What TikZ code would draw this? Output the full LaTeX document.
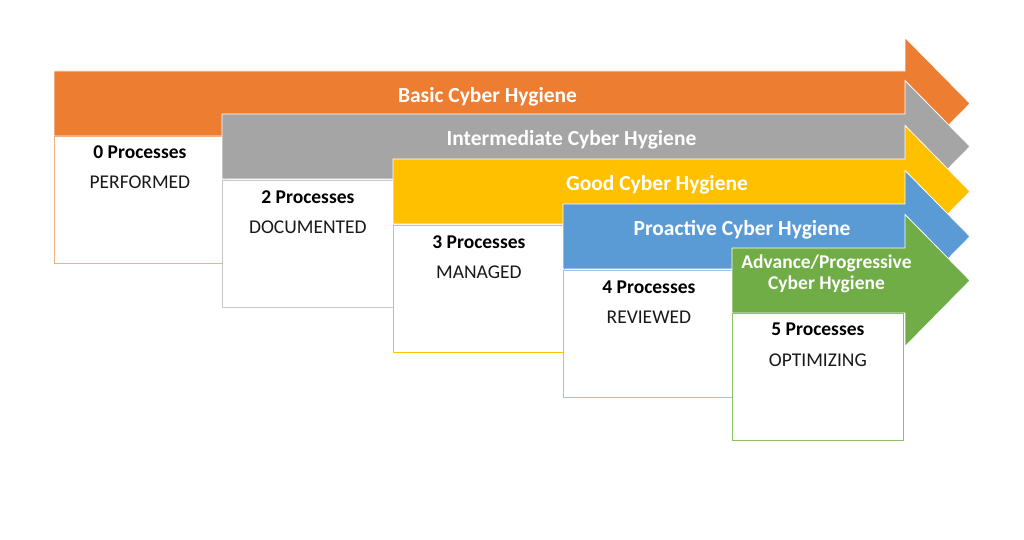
\documentclass[tikz,border=0pt]{standalone}
\usepackage{fontspec}
\setmainfont{Carlito}
\definecolor{cOrange}{HTML}{ED7D31}
\definecolor{cGray}{HTML}{A5A5A5}
\definecolor{cYellow}{HTML}{FFC000}
\definecolor{cBlue}{HTML}{5B9BD5}
\definecolor{cGreen}{HTML}{70AD47}
\definecolor{bOrange}{HTML}{F4B183}
\definecolor{bGray}{HTML}{C9C9C9}
\definecolor{bYellow}{HTML}{FFC000}
\definecolor{bBlue}{HTML}{9DC3E6}
\definecolor{bGreen}{HTML}{8CC168}
\begin{document}
\begin{tikzpicture}[x=1pt,y=-1pt,
  arrowshape/.style={draw=white,line width=0.8pt,line join=miter},
  lvlbox/.style={draw=#1,fill=white,line width=0.8pt,rectangle,anchor=north west,minimum width=171pt,minimum height=127pt,inner sep=0pt},
  arrowlabel/.style={text=white,font=\fontsize{21.5}{24}\selectfont\bfseries,anchor=base,inner sep=0pt},
  proclabel/.style={text=black,font=\fontsize{19.5}{22}\selectfont\bfseries,anchor=base,inner sep=0pt},
  statelabel/.style={text=black!90,font=\fontsize{19.5}{22}\selectfont,anchor=base,inner sep=0pt}]
\useasboundingbox (0,0) rectangle (1024,540);
\fill[white] (0,0) rectangle (1024,540);
% Level 1
\path[arrowshape,fill=cOrange] (54,71) -- (905,71) -- (905,37.5) -- (970,103.5) -- (905,169.5) -- (905,136) -- (54,136) -- cycle;
\node[arrowlabel] (a1) at (487.5,102.5) {Basic Cyber Hygiene};
\node[lvlbox=bOrange] (b1) at (54,136) {};
\node[proclabel] (p1) at ([yshift=-23pt]b1.north) {0 Processes};
\node[statelabel] (s1) at ([yshift=-53pt]b1.north) {PERFORMED};
% Level 2
\path[arrowshape,fill=cGray] (222,114) -- (905,114) -- (905,80.5) -- (970,146.5) -- (905,212.5) -- (905,179) -- (222,179) -- cycle;
\node[arrowlabel] (a2) at (571.5,145.5) {Intermediate Cyber Hygiene};
\node[lvlbox=bGray] (b2) at (222,180) {};
\node[proclabel] (p2) at ([yshift=-23pt]b2.north) {2 Processes};
\node[statelabel] (s2) at ([yshift=-53pt]b2.north) {DOCUMENTED};
% Level 3
\path[arrowshape,fill=cYellow] (393,159) -- (905,159) -- (905,125.5) -- (970,191.5) -- (905,257.5) -- (905,224) -- (393,224) -- cycle;
\node[arrowlabel] (a3) at (657,190.5) {Good Cyber Hygiene};
\node[lvlbox=bYellow] (b3) at (393,225) {};
\node[proclabel] (p3) at ([yshift=-23pt]b3.north) {3 Processes};
\node[statelabel] (s3) at ([yshift=-53pt]b3.north) {MANAGED};
% Level 4
\path[arrowshape,fill=cBlue] (563,204) -- (905,204) -- (905,170.5) -- (970,236.5) -- (905,302.5) -- (905,269) -- (563,269) -- cycle;
\node[arrowlabel] (a4) at (742,235.5) {Proactive Cyber Hygiene};
\node[lvlbox=bBlue] (b4) at (563,270) {};
\node[proclabel] (p4) at ([yshift=-23pt]b4.north) {4 Processes};
\node[statelabel] (s4) at ([yshift=-53pt]b4.north) {REVIEWED};
% Level 5
\path[arrowshape,fill=cGreen] (732,248) -- (905,248) -- (905,214.5) -- (970,280.5) -- (905,346.5) -- (905,313) -- (732,313) -- cycle;
\node[text=white,font=\fontsize{19.5}{21.5}\selectfont\bfseries,align=center,inner sep=0pt,anchor=center] (a5) at (826.5,273.7) {Advance/Progressive\\Cyber Hygiene};
\node[lvlbox=bGreen] (b5) at (732,313) {};
\node[proclabel] (p5) at ([yshift=-22pt]b5.north) {5 Processes};
\node[statelabel] (s5) at ([yshift=-53pt]b5.north) {OPTIMIZING};
\end{tikzpicture}
\end{document}
